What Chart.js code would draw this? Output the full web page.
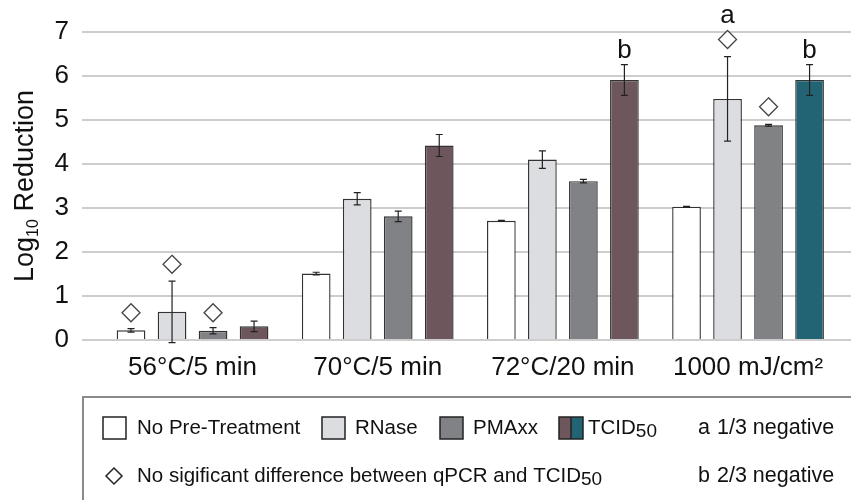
<!DOCTYPE html>
<html>
<head>
<meta charset="utf-8">
<script src="https://cdn.jsdelivr.net/npm/chart.js@4/dist/chart.umd.min.js"></script>
<style>
  html, body { margin: 0; padding: 0; background: #fff; }
  #wrap { width: 851px; height: 500px; position: relative; }
</style>
</head>
<body>
<div id="wrap"><canvas id="chart"></canvas></div>
<script>
    // données
    const categories = ['56°C/5 min', '70°C/5 min', '72°C/20 min', '1000 mJ/cm²'];
    const noPre = [0.22, 1.51, 2.71, 3.03];
    const noPreErr = [0.04, 0.03, 0.01, 0.01];
    const rnase = [0.64, 3.21, 4.10, 5.48];
    const rnaseErr = [0.70, 0.14, 0.20, 0.96];
    const pmaxx = [0.21, 2.81, 3.61, 4.88];
    const pmaxxErr = [0.07, 0.12, 0.04, 0.02];
    const tcid = [0.31, 4.42, 5.91, 5.91];
    const tcidErr = [0.12, 0.25, 0.35, 0.35];
    // losanges (pas de différence significative)
    const noPreDiamond = [0.62, null, null, null];
    const rnaseDiamond = [1.72, null, null, 6.83];
    const pmaxxDiamond = [0.62, null, null, 5.30];
    const tcidDiamond = [null, null, null, null];
    // lettres a / b
    const noPreLetter = ['', '', '', ''];
    const rnaseLetter = ['', '', '', 'a'];
    const pmaxxLetter = ['', '', '', ''];
    const tcidLetter = ['', '', 'b', 'b'];
    const yTicks = [0, 1, 2, 3, 4, 5, 6, 7];

    const FONT = '"Liberation Sans", Arial, sans-serif';
    const pts = arr => arr.map((v, i) => ({ x: i, y: v }));

    const series = [
        { label: 'No Pre-Treatment', data: noPre, err: noPreErr, dia: noPreDiamond, let: noPreLetter, color: '#ffffff' },
        { label: 'RNase', data: rnase, err: rnaseErr, dia: rnaseDiamond, let: rnaseLetter, color: '#dcdde1' },
        { label: 'PMAxx', data: pmaxx, err: pmaxxErr, dia: pmaxxDiamond, let: pmaxxLetter, color: '#808286' },
        { label: 'TCID50', data: tcid, err: tcidErr, dia: tcidDiamond, let: tcidLetter, color: ['#6d575c', '#6d575c', '#6d575c', '#226474'] }
    ];

    function diamond(ctx, x, y, r) {
        const old = ctx.fillStyle;
        ctx.beginPath();
        ctx.moveTo(x, y - r); ctx.lineTo(x + r, y); ctx.lineTo(x, y + r); ctx.lineTo(x - r, y);
        ctx.closePath();
        ctx.fillStyle = '#fff';
        ctx.fill();
        ctx.stroke();
        ctx.fillStyle = old;
    }

    // barres d'erreur, losanges, lettres
    const marks = {
        id: 'marks',
        afterDatasetsDraw(chart) {
            const ctx = chart.ctx, y = chart.scales.y;
            ctx.save();
            series.forEach((s, i) => {
                chart.getDatasetMeta(i).data.forEach((bar, j) => {
                    const top = y.getPixelForValue(s.data[j] + s.err[j]);
                    const bot = y.getPixelForValue(s.data[j] - s.err[j]);
                    ctx.strokeStyle = '#222';
                    ctx.lineWidth = 1.2;
                    ctx.beginPath();
                    ctx.moveTo(bar.x, top); ctx.lineTo(bar.x, bot);
                    ctx.moveTo(bar.x - 3.5, top); ctx.lineTo(bar.x + 3.5, top);
                    ctx.moveTo(bar.x - 3.5, bot); ctx.lineTo(bar.x + 3.5, bot);
                    ctx.stroke();
                    let highest = top;
                    if (s.dia[j] != null) {
                        const dy = y.getPixelForValue(s.dia[j]);
                        ctx.strokeStyle = '#444';
                        ctx.lineWidth = 1.3;
                        diamond(ctx, bar.x, dy, 9);
                        highest = dy - 9;
                    }
                    if (s.let[j]) {
                        ctx.fillStyle = '#111';
                        ctx.font = '26px ' + FONT;
                        ctx.textAlign = 'center';
                        ctx.textBaseline = 'alphabetic';
                        ctx.fillText(s.let[j], bar.x, highest - 7);
                    }
                });
            });
            ctx.restore();
        }
    };

    function subText(ctx, parts, x, y) {
        // texte avec indice, de gauche à droite
        parts.forEach(p => {
            ctx.font = p.font;
            ctx.fillText(p.t, x, y + (p.dy || 0));
            x += ctx.measureText(p.t).width;
        });
        return x;
    }

    // titre de l'axe Y et légende encadrée
    const extras = {
        id: 'extras',
        afterDraw(chart) {
            const ctx = chart.ctx;
            ctx.save();
            // titre Y
            ctx.translate(33, 186);
            ctx.rotate(-Math.PI / 2);
            ctx.fillStyle = '#111';
            ctx.textBaseline = 'alphabetic';
            ctx.textAlign = 'left';
            const big = '27px ' + FONT, small = '16px ' + FONT;
            const parts = [{ t: 'Log', font: big }, { t: '10', font: small, dy: 5 }, { t: ' Reduction', font: big }];
            let w = 0;
            parts.forEach(p => { ctx.font = p.font; w += ctx.measureText(p.t).width; });
            subText(ctx, parts, -w / 2, 0);
            ctx.restore();

            // cadre
            ctx.save();
            ctx.strokeStyle = '#8a8a8a';
            ctx.lineWidth = 2;
            ctx.strokeRect(83, 397, 800, 140);
            ctx.textBaseline = 'middle';
            ctx.textAlign = 'left';
            const f = '20.5px ' + FONT, fs = '19px ' + FONT, fn = '21.5px ' + FONT;
            const r1 = 428, r2 = 476;
            const box = (x, c1, c2) => {
                ctx.lineWidth = 1.5;
                ctx.strokeStyle = '#222';
                if (c2) {
                    ctx.fillStyle = c1; ctx.fillRect(x, r1 - 11, 12, 22);
                    ctx.fillStyle = c2; ctx.fillRect(x + 12, r1 - 11, 12, 22);
                    ctx.beginPath(); ctx.moveTo(x + 12, r1 - 11); ctx.lineTo(x + 12, r1 + 11); ctx.stroke();
                    ctx.strokeRect(x, r1 - 11, 24, 22);
                } else {
                    ctx.fillStyle = c1; ctx.fillRect(x, r1 - 11, 23, 22);
                    ctx.strokeRect(x, r1 - 11, 23, 22);
                }
                ctx.fillStyle = '#111';
            };
            box(103, series[0].color);
            ctx.font = f; ctx.fillText(series[0].label, 137, r1);
            box(322, series[1].color);
            ctx.font = f; ctx.fillText(series[1].label, 355, r1);
            box(440, series[2].color);
            ctx.font = f; ctx.fillText(series[2].label, 473, r1);
            box(559, series[3].color[0], series[3].color[3]);
            subText(ctx, [{ t: 'TCID', font: f }, { t: '50', font: fs, dy: 4 }], 588, r1);
            ctx.font = fn;
            ctx.fillText('a', 698, r1);
            ctx.fillText('1/3 negative', 717, r1);
            ctx.strokeStyle = '#222';
            ctx.lineWidth = 1.5;
            diamond(ctx, 114, r2, 8);
            ctx.fillStyle = '#111';
            subText(ctx, [{ t: 'No sigificant difference between qPCR and TCID', font: f }, { t: '50', font: fs, dy: 4 }], 137, r2);
            ctx.font = fn;
            ctx.fillText('b', 698, r2);
            ctx.fillText('2/3 negative', 717, r2);
            ctx.restore();
        }
    };

    const ctx = document.getElementById('chart').getContext('2d');
    const chart = new Chart(ctx, {
        type: 'bar',
        data: {
            datasets: series.map(s => ({
                label: s.label,
                data: pts(s.data),
                backgroundColor: s.color,
                borderColor: '#333',
                borderWidth: 1.4,
                categoryPercentage: 0.886,
                barPercentage: 0.7
            }))
        },
        options: {
            responsive: true,
            maintainAspectRatio: false,
            animation: false,
            layout: { padding: { top: 32, right: 0, left: 0, bottom: 0 } },
            plugins: { legend: { display: false }, tooltip: { enabled: false } },
            scales: {
                x: {
                    type: 'linear',
                    offset: false,
                    min: -0.597,
                    max: 3.556,
                    grid: { display: false },
                    border: { display: false },
                    afterBuildTicks: sc => { sc.ticks = categories.map((c, i) => ({ value: i })); },
                    afterFit: sc => { sc.height = 160; },
                    ticks: {
                        autoSkip: false,
                        maxRotation: 0,
                        padding: 4,
                        color: '#111',
                        font: { family: FONT, size: 26 },
                        callback: v => categories[v]
                    }
                },
                y: {
                    min: 0,
                    max: 7,
                    afterFit: sc => { sc.width = 82; },
                    afterBuildTicks: sc => {
                        const t = [];
                        yTicks.forEach((v, i) => { t.push({ value: v }); if (i < yTicks.length - 1) t.push({ value: v + 0.5 }); });
                        sc.ticks = t;
                    },
                    border: { display: false },
                    grid: {
                        drawTicks: false,
                        lineWidth: 2,
                        color: c => (Number.isInteger(c.tick.value) ? '#cdcdcd' : '#eeeeee')
                    },
                    ticks: {
                        padding: 13,
                        color: '#111',
                        font: { family: FONT, size: 26 },
                        callback: v => (Number.isInteger(v) ? v : '')
                    }
                }
            }
        },
        plugins: [marks, extras]
    });
</script>
</body>
</html>
